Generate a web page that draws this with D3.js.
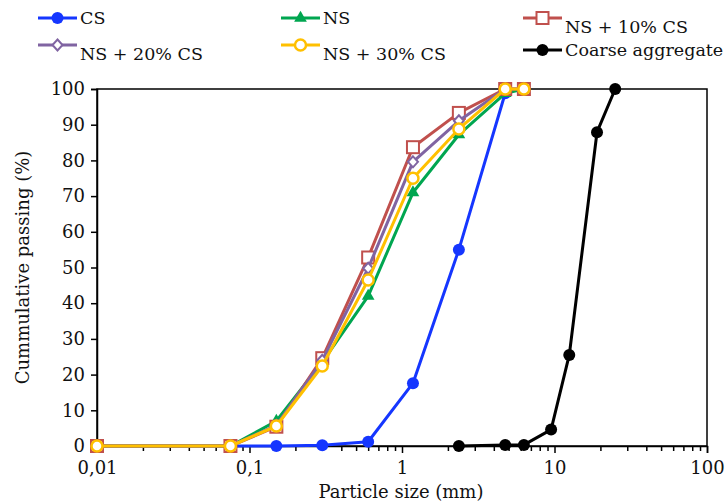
<!DOCTYPE html>
<html>
<head>
<meta charset="utf-8">
<script src="https://cdn.jsdelivr.net/npm/d3@7"></script>
<style>
  html, body { margin: 0; padding: 0; background: #fff; }
  svg text { font-family: "DejaVu Serif", "Liberation Serif", serif; fill: #111; }
</style>
</head>
<body>
<svg id="chart" width="726" height="504"></svg>
<script>
// Sieve sizes (mm) and cumulative passing (%) for each material
const sizesFine = [0.01, 0.075, 0.15, 0.3, 0.6, 1.18, 2.36, 4.75, 6.3];
const sizesCS = [0.01, 0.075, 0.15, 0.3, 0.6, 1.18, 2.36, 4.75];
const sizesCoarse = [2.36, 4.75, 6.3, 9.5, 12.5, 19, 25];

const passingCS = [0, 0, 0, 0.2, 1.2, 17.6, 55.0, 98.8];
const passingNS = [0, 0, 7.0, 23.5, 42.0, 71.0, 87.2, 98.8, 100];
const passingNS10 = [0, 0, 5.4, 24.6, 52.8, 83.7, 93.3, 100, 100];
const passingNS20 = [0, 0, 5.8, 24.0, 49.8, 79.6, 91.1, 100, 100];
const passingNS30 = [0, 0, 5.6, 22.4, 46.5, 75.0, 88.8, 100, 100];
const passingCoarse = [0, 0.3, 0.3, 4.6, 25.5, 87.9, 100];

const xTicks = [0.01, 0.1, 1, 10, 100];
const xTickLabels = ["0,01", "0,1", "1", "10", "100"];
const yTicks = [0, 10, 20, 30, 40, 50, 60, 70, 80, 90, 100];

const seriesNames = ["CS", "NS", "NS + 10% CS", "NS + 20% CS", "NS + 30% CS", "Coarse aggregate"];

const series = [
  { name: seriesNames[0], x: sizesCS, y: passingCS, color: "#1536ff", marker: "dot" },
  { name: seriesNames[1], x: sizesFine, y: passingNS, color: "#00a650", marker: "triangle" },
  { name: seriesNames[2], x: sizesFine, y: passingNS10, color: "#c0504d", marker: "square" },
  { name: seriesNames[3], x: sizesFine, y: passingNS20, color: "#8064a2", marker: "diamond" },
  { name: seriesNames[4], x: sizesFine, y: passingNS30, color: "#ffc000", marker: "ring" },
  { name: seriesNames[5], x: sizesCoarse, y: passingCoarse, color: "#000000", marker: "dot" }
];

const svg = d3.select("#chart");
const plot = { left: 97, right: 707, top: 89, bottom: 446 };
const fontSize = "18px";
const legendFontSize = "17.5px";

const x = d3.scaleLog().domain([0.01, 100]).range([plot.left, plot.right]);
const y = d3.scaleLinear().domain([0, 100]).range([plot.bottom, plot.top]);

// Plot frame
svg.append("rect")
  .attr("x", plot.left).attr("y", plot.top)
  .attr("width", plot.right - plot.left).attr("height", plot.bottom - plot.top)
  .attr("fill", "none").attr("stroke", "#000").attr("stroke-width", 1.5);

// Y axis
const yAxis = d3.axisLeft(y).tickValues(yTicks).tickSize(6).tickPadding(6);
const gy = svg.append("g").attr("transform", `translate(${plot.left},0)`).call(yAxis);
gy.select(".domain").attr("stroke-width", 1.5);
gy.selectAll(".tick line").attr("stroke-width", 1.5);
gy.selectAll("text").style("font-size", fontSize);

// X axis: major decade ticks with labels, minor ticks between
const minor = [];
for (let d = 0.01; d < 100; d *= 10) {
  for (let k = 2; k <= 9; k++) minor.push(d * k);
}
const gxMinor = svg.append("g").attr("transform", `translate(0,${plot.bottom})`)
  .call(d3.axisBottom(x).tickValues(minor).tickSize(5).tickFormat(""));
gxMinor.select(".domain").remove();
gxMinor.selectAll(".tick line").attr("stroke-width", 1.5);

const xAxis = d3.axisBottom(x).tickValues(xTicks).tickSize(7).tickPadding(8)
  .tickFormat((d, i) => xTickLabels[i]);
const gx = svg.append("g").attr("transform", `translate(0,${plot.bottom})`).call(xAxis);
gx.select(".domain").attr("stroke-width", 1.5);
gx.selectAll(".tick line").attr("stroke-width", 1.5);
gx.selectAll("text").style("font-size", fontSize);

// Axis titles
svg.append("text")
  .attr("x", 401).attr("y", 498)
  .attr("text-anchor", "middle").style("font-size", fontSize)
  .text("Particle size (mm)");
svg.append("text")
  .attr("transform", `translate(29,${(plot.top + plot.bottom) / 2}) rotate(-90)`)
  .attr("text-anchor", "middle").style("font-size", fontSize)
  .text("Cummulative passing (%)");

// Marker drawing
function drawMarker(g, type, color) {
  switch (type) {
    case "dot":
      g.append("circle").attr("r", 6).attr("fill", color);
      break;
    case "triangle":
      g.append("path").attr("d", d3.symbol(d3.symbolTriangle, 70)()).attr("fill", color);
      break;
    case "square":
      g.append("rect").attr("x", -6).attr("y", -6).attr("width", 12).attr("height", 12)
        .attr("fill", "#fff").attr("stroke", color).attr("stroke-width", 2);
      break;
    case "diamond":
      g.append("path").attr("d", "M0,-5.5L5,0L0,5.5L-5,0Z")
        .attr("fill", "#fff").attr("stroke", color).attr("stroke-width", 2);
      break;
    case "ring":
      g.append("circle").attr("r", 5.5)
        .attr("fill", "#fff").attr("stroke", color).attr("stroke-width", 2.5);
      break;
  }
}

const line = d3.line().x(d => x(d[0])).y(d => y(d[1]));

series.forEach(s => {
  const pts = s.x.map((v, i) => [v, s.y[i]]);
  const g = svg.append("g");
  g.append("path").datum(pts).attr("d", line)
    .attr("fill", "none").attr("stroke", s.color).attr("stroke-width", 3)
    .attr("stroke-linejoin", "round");
  pts.forEach(p => {
    const m = g.append("g").attr("transform", `translate(${x(p[0])},${y(p[1])})`);
    drawMarker(m, s.marker, s.color);
  });
});

// Legend
const legendItems = [
  { s: series[0], lx: 38, ly: 18, tx: 80, ty: 18 },
  { s: series[1], lx: 281, ly: 18, tx: 323, ty: 18 },
  { s: series[2], lx: 523, ly: 18, tx: 565, ty: 27 },
  { s: series[3], lx: 38, ly: 45, tx: 80, ty: 54 },
  { s: series[4], lx: 281, ly: 45, tx: 323, ty: 54 },
  { s: series[5], lx: 523, ly: 50, tx: 565, ty: 50 }
];
legendItems.forEach(it => {
  const g = svg.append("g");
  g.append("line").attr("x1", it.lx).attr("x2", it.lx + 39)
    .attr("y1", it.ly).attr("y2", it.ly)
    .attr("stroke", it.s.color).attr("stroke-width", 3);
  const m = g.append("g").attr("transform", `translate(${it.lx + 19.5},${it.ly})`);
  drawMarker(m, it.s.marker, it.s.color);
  g.append("text").attr("x", it.tx).attr("y", it.ty).attr("dy", "0.35em")
    .style("font-size", legendFontSize).text(it.s.name);
});
</script>
</body>
</html>
